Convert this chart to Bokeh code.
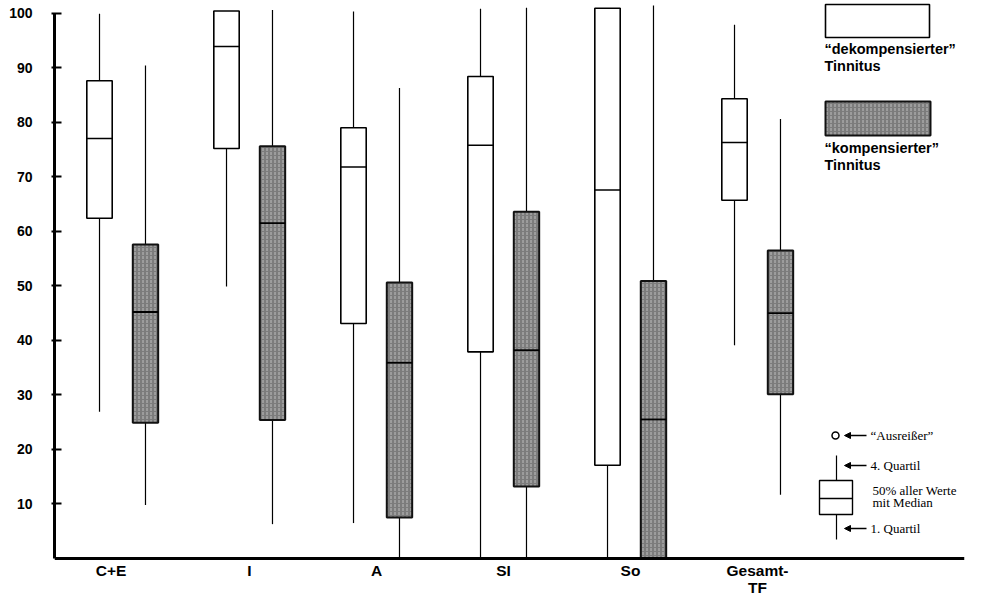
from bokeh.plotting import figure
from bokeh.models import Range1d, FixedTicker, Label, Arrow, NormalHead, ColumnDataSource, Span
from bokeh.embed import file_html
from bokeh.resources import INLINE

# ---------------- data ----------------
categories = ["C+E", "I", "A", "SI", "So", "Gesamt-\nTF"]

# "dekompensierter" Tinnitus (white boxes)
dek_low = [26.9, 49.9, 6.5, 0.0, 0.0, 39.1]
dek_q1 = [62.4, 75.2, 43.1, 37.9, 17.1, 65.7]
dek_med = [77.0, 93.9, 71.8, 75.8, 67.6, 76.3]
dek_q3 = [87.6, 100.4, 79.0, 88.4, 100.9, 84.3]
dek_high = [99.9, 100.4, 100.3, 100.8, 100.9, 97.9]

# "kompensierter" Tinnitus (grey boxes)
kom_low = [9.8, 6.3, 0.0, 0.0, 0.0, 11.7]
kom_q1 = [24.9, 25.4, 7.5, 13.2, 0.0, 30.1]
kom_med = [45.2, 61.5, 35.9, 38.2, 25.5, 45.0]
kom_q3 = [57.6, 75.6, 50.6, 63.6, 50.9, 56.5]
kom_high = [90.4, 100.6, 86.3, 101.0, 101.4, 80.6]

y_ticks = [10, 20, 30, 40, 50, 60, 70, 80, 90, 100]

# ---------------- layout helpers ----------------
GROUP_PX0, GROUP_DPX = 130.0, 127.0
PX_PER_UNIT = 5.453
AXIS_PY = 566.0


def X(px):
    return (px - GROUP_PX0) / GROUP_DPX


def Y(py):
    return (AXIS_PY - py) / PX_PER_UNIT


OFF = 0.181
BW = 0.2

n = len(categories)
xw = [i - OFF for i in range(n)]
xk = [i + OFF for i in range(n)]

p = figure(width=977, height=596, output_backend="svg", toolbar_location=None,
           x_range=Range1d(X(62), X(972)), y_range=Range1d(Y(604), Y(8)),
           min_border_left=54, min_border_right=13, min_border_top=0,
           min_border_bottom=0)
p.outline_line_color = None
p.xgrid.visible = False
p.ygrid.visible = False
p.xaxis.visible = False
p.background_fill_color = "white"
p.border_fill_color = "white"

GREY_FILL = "#7c7c7c"
HATCH = dict(hatch_pattern=":", hatch_color="#bdbdbd", hatch_scale=4, hatch_weight=1)

# white boxes
src_w = ColumnDataSource(dict(x=xw, low=dek_low, q1=dek_q1, med=dek_med, q3=dek_q3, high=dek_high,
                              x0=[v - BW / 2 for v in xw], x1=[v + BW / 2 for v in xw]))
p.segment(x0="x", y0="q3", x1="x", y1="high", source=src_w, line_color="black", line_width=1.2)
p.segment(x0="x", y0="low", x1="x", y1="q1", source=src_w, line_color="black", line_width=1.2)
p.vbar(x="x", bottom="q1", top="q3", width=BW, source=src_w, fill_color="white",
       line_color="black", line_width=1.6)
p.segment(x0="x0", y0="med", x1="x1", y1="med", source=src_w, line_color="black", line_width=1.5)

# grey boxes
src_k = ColumnDataSource(dict(x=xk, low=kom_low, q1=kom_q1, med=kom_med, q3=kom_q3, high=kom_high,
                              x0=[v - BW / 2 for v in xk], x1=[v + BW / 2 for v in xk]))
p.segment(x0="x", y0="q3", x1="x", y1="high", source=src_k, line_color="black", line_width=1.2)
p.segment(x0="x", y0="low", x1="x", y1="q1", source=src_k, line_color="black", line_width=1.2)
p.vbar(x="x", bottom="q1", top="q3", width=BW, source=src_k, fill_color=GREY_FILL,
       line_color="#111111", line_width=2, **HATCH)
p.segment(x0="x0", y0="med", x1="x1", y1="med", source=src_k, line_color="black", line_width=1.8)

# ---------------- axes ----------------
yax = p.yaxis[0]
yax.ticker = FixedTicker(ticks=y_ticks)
yax.bounds = (0, 100)
yax.axis_line_width = 3
yax.major_tick_line_width = 2
yax.major_tick_in = 7
yax.major_tick_out = 3
yax.minor_tick_line_color = None
yax.major_label_standoff = 19
yax.major_label_text_font = "Liberation Sans"
yax.major_label_text_font_style = "bold"
yax.major_label_text_font_size = "14px"
yax.major_label_text_color = "black"

# baseline (x axis line) at value 0
p.add_layout(Span(location=0, dimension="width", line_color="black", line_width=3))

# category labels below the baseline
for i, cat in enumerate(categories):
    p.add_layout(Label(x=i + (0.0 if i else -0.09), y=Y(569), text=cat, text_align="center",
                       text_baseline="top", text_font="Liberation Sans", text_font_style="bold",
                       text_font_size="15.5px", text_color="black", text_line_height=1.0))

# ---------------- legend (top right) ----------------
p.quad(left=[X(833)], right=[X(937)], top=[Y(12)], bottom=[Y(45)], fill_color="white",
       line_color="black", line_width=1.6)
p.quad(left=[X(833)], right=[X(938)], top=[Y(109)], bottom=[Y(143)], fill_color=GREY_FILL,
       line_color="#111111", line_width=2, **HATCH)

LEG_FONT = dict(text_font="Liberation Sans", text_font_style="bold",
                text_font_size="14.5px", text_color="black", text_baseline="top")
for txt, py in [("\u201cdekompensierter\u201d", 48), ("Tinnitus", 65),
                ("\u201ckompensierter\u201d", 147), ("Tinnitus", 164)]:
    p.add_layout(Label(x=X(832), y=Y(py), text=txt, **LEG_FONT))

# ---------------- legend (bottom right: box-plot key) ----------------
p.scatter(x=[X(843)], y=[Y(443)], marker="circle", size=7, fill_color="white",
          line_color="black", line_width=1.5)
p.segment(x0=[X(844)], y0=[Y(463)], x1=[X(844)], y1=[Y(488)], line_color="black", line_width=1.2)
p.segment(x0=[X(844)], y0=[Y(522)], x1=[X(844)], y1=[Y(547)], line_color="black", line_width=1.2)
p.quad(left=[X(827)], right=[X(860)], top=[Y(488)], bottom=[Y(522)], fill_color="white",
       line_color="black", line_width=1.4)
p.segment(x0=[X(827)], y0=[Y(506)], x1=[X(860)], y1=[Y(506)], line_color="black", line_width=1.3)

for py in [443, 473, 536]:
    p.add_layout(Arrow(end=NormalHead(size=6, fill_color="black", line_color="black"),
                       x_start=X(874), y_start=Y(py), x_end=X(852), y_end=Y(py),
                       line_color="black", line_width=1.3))

KEY_FONT = dict(text_font="Liberation Serif", text_font_size="13px", text_color="black",
                text_baseline="middle")
for txt, px, py in [("\u201cAusrei\u00dfer\u201d", 878, 443), ("4. Quartil", 878, 473),
                    ("50% aller Werte", 880, 498), ("mit Median", 880, 510),
                    ("1. Quartil", 878, 536)]:
    p.add_layout(Label(x=X(px), y=Y(py), text=txt, **KEY_FONT))

open("out.html", "w").write(file_html(p, INLINE))
